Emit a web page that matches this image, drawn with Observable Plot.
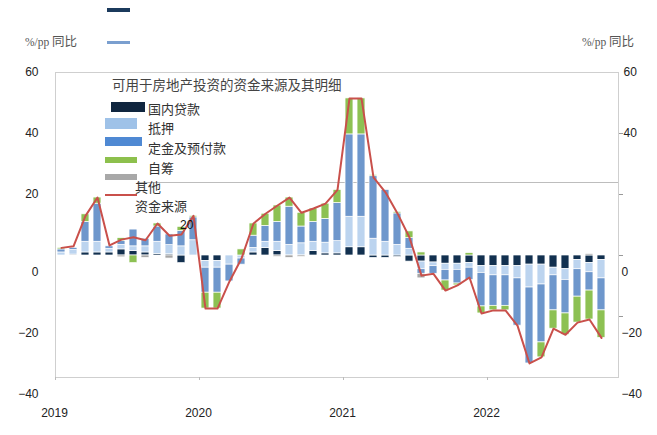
<!DOCTYPE html>
<html><head><meta charset="utf-8">
<script src="https://cdn.jsdelivr.net/npm/d3@7"></script>
<script src="https://cdn.jsdelivr.net/npm/@observablehq/plot@0.6"></script>
<style>
html,body{margin:0;padding:0;background:#fff;}
#wrap{position:relative;width:657px;height:435px;overflow:hidden;font-family:"Liberation Sans",Arial,"Noto Sans CJK SC",sans-serif;}
#chart{position:absolute;left:0;top:0;z-index:1;}
#chart svg{background:transparent;}
.ov{position:absolute;white-space:nowrap;z-index:2;font-family:"Noto Sans CJK SC","Liberation Sans",sans-serif;color:#333;line-height:1;}
.sw{position:absolute;z-index:2;}
.unit{font-family:"Liberation Serif","DejaVu Serif",serif;font-size:11.5px;}
#boxline{position:absolute;left:137px;top:182px;width:481px;height:1px;background:#bdbdbd;z-index:0;}
</style></head>
<body>
<div id="wrap">
  <div id="boxline"></div>
  <div id="chart"></div>
  <div class="sw" style="left:107px;top:8px;width:23px;height:4px;background:#1b3a5c"></div>
  <div class="sw" style="left:107px;top:41px;width:23px;height:3px;background:#7a9fcf"></div>
  <div class="ov" style="left:25px;top:35px;font-size:12.5px;color:#555"><span class="unit">%/pp</span> 同比</div>
  <div class="ov" style="left:582px;top:35px;font-size:12.5px;color:#555"><span class="unit">%/pp</span> 同比</div>
  <div class="ov" style="left:112px;top:78px;font-size:13.5px;color:#444">可用于房地产投资的资金来源及其明细</div>
  <div class="sw" style="left:111px;top:102px;width:34px;height:10px;background:#10263f"></div>
  <div class="ov" style="left:148px;top:102px;font-size:13px">国内贷款</div>
  <div class="sw" style="left:105px;top:118px;width:32px;height:11px;background:#9fc2e8"></div>
  <div class="ov" style="left:148px;top:121px;font-size:13px">抵押</div>
  <div class="sw" style="left:105px;top:137px;width:37px;height:9px;background:#4f89d3"></div>
  <div class="ov" style="left:148px;top:141px;font-size:13px">定金及预付款</div>
  <div class="sw" style="left:105px;top:157px;width:32px;height:6px;background:#8dc04d"></div>
  <div class="ov" style="left:148px;top:161px;font-size:13px">自筹</div>
  <div class="sw" style="left:105px;top:174px;width:32px;height:6px;background:#a8a8a8"></div>
  <div class="ov" style="left:135px;top:180px;font-size:13px">其他</div>
  <div class="sw" style="left:105px;top:194px;width:32px;height:2px;background:#c9504b"></div>
  <div class="ov" style="left:135px;top:199px;font-size:13px">资金来源</div>
  <div class="ov" style="left:180px;top:219px;font-size:12px;color:#111;font-family:'Liberation Sans',Arial,sans-serif">20</div>
</div>
<script>
// Series (single-month YoY contributions, %/pp), Jan 2019 – Oct 2022
const seriesNames = ["国内贷款", "抵押", "定金及预付款", "自筹", "其他"];
const seriesColors = ["#12304f", "#bcd4ef", "#6e97cc", "#8dc153", "#a6a6a6"];
const yearLabels = ["2019", "2020", "2021", "2022"];
const yTicksUpper = [60, 40, 20];
const yTicksLower = [0, -20, -40];

const domesticLoans = [0,0.3,1,1,1,2,1.5,1,0.5,0.4,-2.5,0,
  -1.8,-1.8,0,0,1,2.5,1.5,0,0,1.5,0.7,0.7,
  2.7,2.7,-0.8,-0.8,-0.5,-2,-2,-2.3,-2.7,-2.7,-2.5,-3.5,
  -3.5,-3.5,-3.5,-3,-3,-4,-4.5,-1.5,-2.5,-1.5];
const mortgage = [1,1.5,3.5,3.5,1.2,1.5,1.5,2,4,3,3,5,
  -2.2,-2.2,-3,-1,1.5,2,3,3.5,4,3,3.5,4,
  10,10,5.5,4.5,3.5,2.2,-2.5,-1.2,-2,-2,-1.5,-2.2,
  -3,-3,-4,-7.5,-6.5,-2.5,-3.5,-3,-3,-6];
const deposits = [1,0.7,6.5,12.5,0.8,1.2,5.5,2.5,5,3.5,5,7.5,
  -8.2,-8.2,-5.5,-2,4,5.2,6.5,12.5,5.5,6.5,7.8,12.5,
  27,27,20.5,17,10.3,3.5,-1.5,-2.5,-3.5,-4.5,-4,-11,
  -10,-10,-15.5,-24.9,-19,-11.5,-11,-9,-6,-10.5];
const selfRaised = [0.5,0,2.5,2,0,1,-2.5,0,1,0,1.4,0.5,
  -5.2,-5.2,0,2,4,4,5.4,3,4.5,4.4,5,4.3,
  11.8,11.8,0.4,0,0.5,2.2,1,0,-3.3,-0.6,0.8,-2.3,
  -1.5,-1.5,0,0,-4.9,-6,-7,-8.5,-9.5,-9];
const other = [0,0,0,0,0,-0.6,0,-0.8,0,-1,0,0,
  0,0,0,0,0,0,-0.5,-0.8,-0.5,0,0,0,
  0,0,0,0,0,0,-1.5,0,0,0,0,0,
  0,0,0,0,0,0,0,0,0.5,0];
const totalFunds = [2.5,3,13,19,3.3,5.2,6,5,10.5,6.5,6.9,13,
  -17.4,-17.4,-8.5,-1,10.5,13.7,16.4,19,14,15.4,17,21.5,
  51.5,51.5,25.6,20.7,13.8,5.9,-6.6,-6,-11.5,-9.8,-7.2,-19,
  -18,-18,-23,-35.4,-33.4,-24,-26,-22,-21,-27];

const comps = [domesticLoans, mortgage, deposits, selfRaised, other];
const n = totalFunds.length;
const long = [];
for (let i = 0; i < n; i++) {
  comps.forEach((arr, k) => long.push({i, x1: i + 0.17, x2: i + 0.83, series: seriesNames[k], value: arr[i]}));
}
const lineData = totalFunds.map((v, i) => ({x: i + 0.5, v}));

const chart = Plot.plot({
  width: 657, height: 435,
  marginLeft: 55, marginRight: 39, marginTop: 72, marginBottom: 58,
  style: {fontSize: "12px", fontFamily: "'Liberation Sans', Arial, sans-serif", color: "#222", background: "transparent"},
  x: {domain: [0, n + 11/12], axis: null},
  y: {domain: [-40, 60], axis: null},
  color: {domain: seriesNames, range: seriesColors},
  marks: [
    Plot.rect(long, Plot.stackY({x: "i", x1: "x1", x2: "x2", y: "value", fill: "series", stroke: "white", strokeWidth: 0.7})),
    Plot.line(lineData, {x: "x", y: "v", stroke: "#c9504b", strokeWidth: 2}),
    Plot.frame({stroke: "#cfcfcf"}),
    Plot.axisY({anchor: "left", ticks: yTicksUpper, tickSize: 0, tickPadding: 17}),
    Plot.axisY({anchor: "left", ticks: yTicksLower, tickSize: 0, tickPadding: 17, dy: 17}),
    Plot.axisY({anchor: "right", ticks: [60, 40], tickSize: 0, tickPadding: 5}),
    Plot.axisY({anchor: "right", ticks: yTicksLower, tickSize: 0, tickPadding: 3, dy: 17}),
    Plot.axisY({anchor: "right", ticks: [40, 20, 0, -20], tickSize: 4, tickFormat: () => "", stroke: "#999"}),
    Plot.axisX({ticks: [0, 12, 24, 36], tickSize: 0, tickPadding: 31, dx: -1, tickFormat: d => yearLabels[Math.round(d / 12)]}),
    Plot.axisX({ticks: [0, 12, 24, 36], tickSize: 3, tickFormat: () => "", stroke: "#bbb"})
  ]
});
document.getElementById("chart").appendChild(chart);
</script>
</body></html>
